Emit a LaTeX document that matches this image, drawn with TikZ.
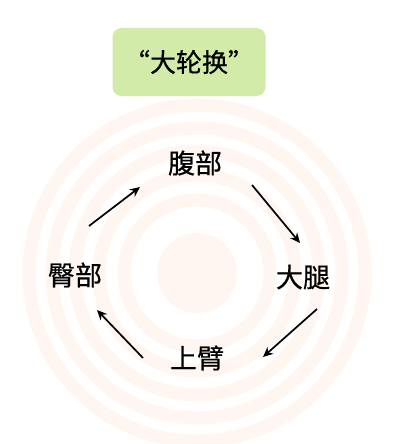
\documentclass[tikz,border=0pt]{standalone}
\usepackage{fontspec}
\newfontfamily\cjk[FakeBold=0.6]{Noto Sans CJK SC}
\usetikzlibrary{arrows.meta}
\definecolor{ringc}{RGB}{255,246,241}
\definecolor{boxg}{RGB}{211,235,168}
\tikzset{
  ring/.style={draw=ringc, line width=13pt},
  lbl/.style={font=\cjk\fontsize{27}{27}\selectfont, text=black, inner sep=0pt},
  arr/.style={draw=black, line width=1.7pt, -{Stealth[length=10pt,width=9pt]}},
  titlebox/.style={fill=boxg, rounded corners=9pt, minimum width=153pt, minimum height=68pt, font=\cjk\fontsize{26}{26}\selectfont, inner sep=0pt}
}
\begin{document}
\begin{tikzpicture}[x=1pt,y=-1pt]
\useasboundingbox (0,0) rectangle (400,444);
\fill[white] (0,0) rectangle (400,444);
% watermark rings
\coordinate (c) at (197,273);
\fill[ringc] (c) circle (40);
\foreach \r in {73,98,122,145,168} { \draw[ring] (c) circle (\r); }
% title
\node[titlebox] (title) at (189,62) {“大轮换”};
% labels
\node[lbl] (abd) at (195,163) {腹部};
\node[lbl] (thigh) at (303,277) {大腿};
\node[lbl] (arm) at (197,358) {上臂};
\node[lbl] (hip) at (75,275) {臀部};
% arrow end points
\coordinate (a1s) at (89,226);
\coordinate (a1e) at (140,187);
\coordinate (a2s) at (252,185);
\coordinate (a2e) at (300,243);
\coordinate (a3s) at (317,309);
\coordinate (a3e) at (263,357);
\coordinate (a4s) at (143,358);
\coordinate (a4e) at (97,310);
\draw[arr] (a1s) -- (a1e);
\draw[arr] (a2s) -- (a2e);
\draw[arr] (a3s) -- (a3e);
\draw[arr] (a4s) -- (a4e);
\end{tikzpicture}
\end{document}
